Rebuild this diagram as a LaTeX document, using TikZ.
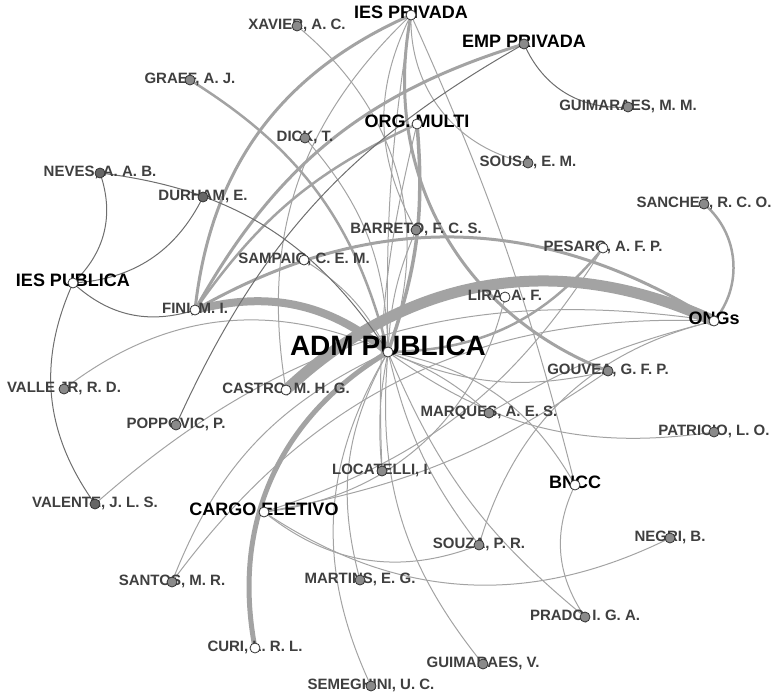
\documentclass[tikz,border=0pt]{standalone}
\usepackage{fontspec}
\setmainfont{Liberation Sans}
\definecolor{ecol}{HTML}{A3A3A3}
\definecolor{edark}{HTML}{6E6E6E}
\definecolor{lcol}{HTML}{3F3F3F}
\definecolor{vgray}{HTML}{8A8A8A}
\definecolor{vborder}{HTML}{333333}
\pgfdeclarelayer{edges}
\pgfdeclarelayer{top}
\pgfsetlayers{edges,main,top}
\tikzset{
  e/.style={draw=ecol, line width=1pt},
  ed/.style={draw=edark, line width=1pt},
  vtx/.style={circle, draw=vborder, line width=0.8pt, minimum size=10pt, inner sep=0pt, fill=vgray},
  vw/.style={vtx, fill=white},
  pl/.style={text=lcol, font=\fontsize{15}{15}\selectfont\bfseries, inner sep=0pt, text height=0.72em, text depth=0pt},
  cl/.style={text=black, font=\fontsize{18}{18}\selectfont\bfseries, inner sep=0pt, text height=0.72em, text depth=0pt},
  bl/.style={text=black, font=\fontsize{28}{28}\selectfont\bfseries, inner sep=0pt, text height=0.72em, text depth=0pt},
}
\begin{document}
\begin{tikzpicture}[x=1pt,y=-1pt]
\useasboundingbox (0,0) rectangle (775,695);
\begin{pgfonlayer}{top}
\node[vw]  (iespriv)  at (411,15)  {};
\node[vtx] (xavier)   at (297,26)  {};
\node[vtx] (emppriv)  at (524,44)  {};
\node[vtx] (graef)    at (190,80)  {};
\node[vtx] (guimm)    at (628,107) {};
\node[vw]  (orgm)     at (417,124) {};
\node[vtx] (dick)     at (305,138) {};
\node[vtx] (sousa)    at (528,163) {};
\node[vtx,fill=gray!80!black] (neves) at (100,173) {};
\node[vtx,fill=gray!80!black] (durham) at (203,197) {};
\node[vtx] (sanchez)  at (704,204) {};
\node[vtx] (barreto)  at (416,230) {};
\node[vw]  (sampaio)  at (304,260) {};
\node[vw]  (pesaro)   at (603,248) {};
\node[vw]  (iespub)   at (73,283)  {};
\node[vw]  (lira)     at (505,297) {};
\node[vw]  (fini)     at (195,310) {};
\node[vw]  (ongs)     at (714,321) {};
\node[vw]  (adm)      at (388,352) {};
\node[vtx] (valle)    at (64,389)  {};
\node[vw]  (castro)   at (286,390) {};
\node[vtx] (gouvea)   at (608,371) {};
\node[vtx] (marques)  at (489,413) {};
\node[vtx] (poppovic) at (176,425) {};
\node[vtx] (patricio) at (714,432) {};
\node[vtx] (locatelli) at (382,471) {};
\node[vw]  (bncc)     at (575,485) {};
\node[vtx,fill=gray!80!black] (valente) at (95,504) {};
\node[vw]  (cargo)    at (264,512) {};
\node[vtx] (souza)    at (479,545) {};
\node[vtx] (negri)    at (670,538) {};
\node[vtx] (santos)   at (172,582) {};
\node[vtx] (martins)  at (360,580) {};
\node[vtx] (prado)    at (585,617) {};
\node[vw]  (curi)     at (255,648) {};
\node[vtx] (guimv)    at (483,664) {};
\node[vtx] (semeghini) at (371,686) {};
\end{pgfonlayer}
% labels
\node[cl] (iespriv-t) at (iespriv) {IES PRIVADA};
\node[pl] (xavier-t) at (xavier) {XAVIER, A. C.};
\node[cl] (emppriv-t) at (emppriv) {EMP PRIVADA};
\node[pl] (graef-t) at (graef) {GRAEF, A. J.};
\node[pl] (guimm-t) at (guimm) {GUIMARAES, M. M.};
\node[cl] (orgm-t) at (orgm) {ORG. MULTI};
\node[pl] (dick-t) at (dick) {DICK, T.};
\node[pl] (sousa-t) at (sousa) {SOUSA, E. M.};
\node[pl] (neves-t) at (neves) {NEVES, A. A. B.};
\node[pl] (durham-t) at (durham) {DURHAM, E.};
\node[pl] (sanchez-t) at (sanchez) {SANCHEZ, R. C. O.};
\node[pl] (barreto-t) at (barreto) {BARRETO, F. C. S.};
\node[pl] (sampaio-t) at (sampaio) {SAMPAIO, C. E. M.};
\node[pl] (pesaro-t) at (pesaro) {PESARO, A. F. P.};
\node[cl] (iespub-t) at (iespub) {IES PUBLICA};
\node[pl] (lira-t) at (lira) {LIRA, A. F.};
\node[pl] (fini-t) at (fini) {FINI, M. I.};
\node[cl] (ongs-t) at (ongs) {ONGs};
\node[bl] (adm-t) at (adm) {ADM PUBLICA};
\node[pl] (valle-t) at (valle) {VALLE JR, R. D.};
\node[pl] (castro-t) at (castro) {CASTRO, M. H. G.};
\node[pl] (gouvea-t) at (gouvea) {GOUVEA, G. F. P.};
\node[pl] (marques-t) at (marques) {MARQUES, A. E. S.};
\node[pl] (poppovic-t) at (poppovic) {POPPOVIC, P.};
\node[pl] (patricio-t) at (patricio) {PATRICIO, L. O.};
\node[pl] (locatelli-t) at (locatelli) {LOCATELLI, I.};
\node[cl] (bncc-t) at (bncc) {BNCC};
\node[pl] (valente-t) at (valente) {VALENTE, J. L. S.};
\node[cl] (cargo-t) at (cargo) {CARGO ELETIVO};
\node[pl] (souza-t) at (souza) {SOUZA, P. R.};
\node[pl] (negri-t) at (negri) {NEGRI, B.};
\node[pl] (santos-t) at (santos) {SANTOS, M. R.};
\node[pl] (martins-t) at (martins) {MARTINS, E. G.};
\node[pl] (prado-t) at (prado) {PRADO, I. G. A.};
\node[pl] (curi-t) at (curi) {CURI, L. R. L.};
\node[pl] (guimv-t) at (guimv) {GUIMARAES, V.};
\node[pl] (semeghini-t) at (semeghini) {SEMEGHINI, U. C.};
\begin{pgfonlayer}{edges}
% heavy edges
\draw[e, line width=11pt] (castro.center) to[bend left=34] (ongs.center);
\draw[e, line width=8pt] (fini.center) to[bend left=27] (adm.center);
\draw[e, line width=5pt] (adm.center) to[bend right=35] (curi.center);
\draw[e, line width=3.5pt] (orgm.center) to[bend left=12] (adm.center);
\draw[e, line width=3pt] (fini.center) to[bend left=30] (iespriv.center);
\draw[e, line width=3pt] (fini.center) to[bend left=22] (emppriv.center);
\draw[e, line width=2.5pt] (fini.center) to[bend left=15] (orgm.center);
\draw[e, line width=3pt] (fini.center) to[bend left=31] (ongs.center);
\draw[e, line width=3pt] (iespriv.center) to[bend right=40] (gouvea.center);
\draw[e, line width=2.5pt] (graef.center) to[bend left=22] (adm.center);
\draw[e, line width=2.5pt] (sanchez.center) to[bend left=45] (ongs.center);
\draw[e, line width=2.5pt] (adm.center) to[bend right=25] (pesaro.center);
% thin edges
\draw[e] (xavier.center) to[bend left=35] (adm.center);
\draw[e] (dick.center) to[bend left=20] (adm.center);
\draw[e] (sampaio.center) to[bend left=15] (adm.center);
\draw[e] (barreto.center) to[bend right=10] (adm.center);
\draw[e] (iespriv.center) to[bend right=5] (adm.center);
\draw[e] (castro.center) to[bend left=28] (iespriv.center);
\draw[e] (iespriv.center) to[bend right=28] (barreto.center);
\draw[e] (iespriv.center) to[bend right=40] (sousa.center);
\draw[e] (iespriv.center) to[bend left=5] (bncc.center);
\draw[e] (orgm.center) to[bend right=8] (locatelli.center);
\draw[e] (valle.center) to[bend left=31] (adm.center);
\draw[e] (santos.center) to[bend left=22] (adm.center);
\draw[e] (santos.center) to[bend left=28] (ongs.center);
\draw[e] (valente.center) to[bend left=25] (ongs.center);
\draw[e] (cargo.center) to[bend right=30] (souza.center);
\draw[e] (cargo.center) to[bend right=30] (negri.center);
\draw[e] (cargo.center) to[bend right=20] (pesaro.center);
\draw[e] (cargo.center) to[bend right=12] (gouvea.center);
\draw[e] (lira.center) to[bend left=35] (cargo.center);
\draw[e] (souza.center) to[bend left=30] (ongs.center);
\draw[e] (marques.center) to[bend left=8] (ongs.center);
\draw[e] (adm.center) to[bend right=18] (gouvea.center);
\draw[e] (adm.center) to[bend right=22] (patricio.center);
\draw[e] (adm.center) to[bend left=25] (bncc.center);
\draw[e] (adm.center) to[bend left=10] (marques.center);
\draw[e] (adm.center) to[bend right=28] (semeghini.center);
\draw[e] (adm.center) to[bend right=22] (martins.center);
\draw[e] (adm.center) to[bend right=22] (guimv.center);
\draw[e] (adm.center) to[bend right=12] (souza.center);
\draw[e] (adm.center) to[bend right=14] (prado.center);
\draw[e] (adm.center) to[bend right=8] (locatelli.center);
\draw[e] (bncc.center) to[bend right=30] (prado.center);
% darker edges
\draw[ed] (neves.center) to[bend left=25] (adm.center);
\draw[ed] (neves.center) to[bend left=33] (iespub.center);
\draw[ed] (durham.center) to[bend left=30] (iespub.center);
\draw[ed] (iespub.center) to[bend right=30] (fini.center);
\draw[ed] (iespub.center) to[bend right=30] (valente.center);
\draw[ed] (poppovic.center) to[bend left=18] (emppriv.center);
\draw[ed] (emppriv.center) to[bend right=35] (guimm.center);
\end{pgfonlayer}
\end{tikzpicture}
\end{document}
